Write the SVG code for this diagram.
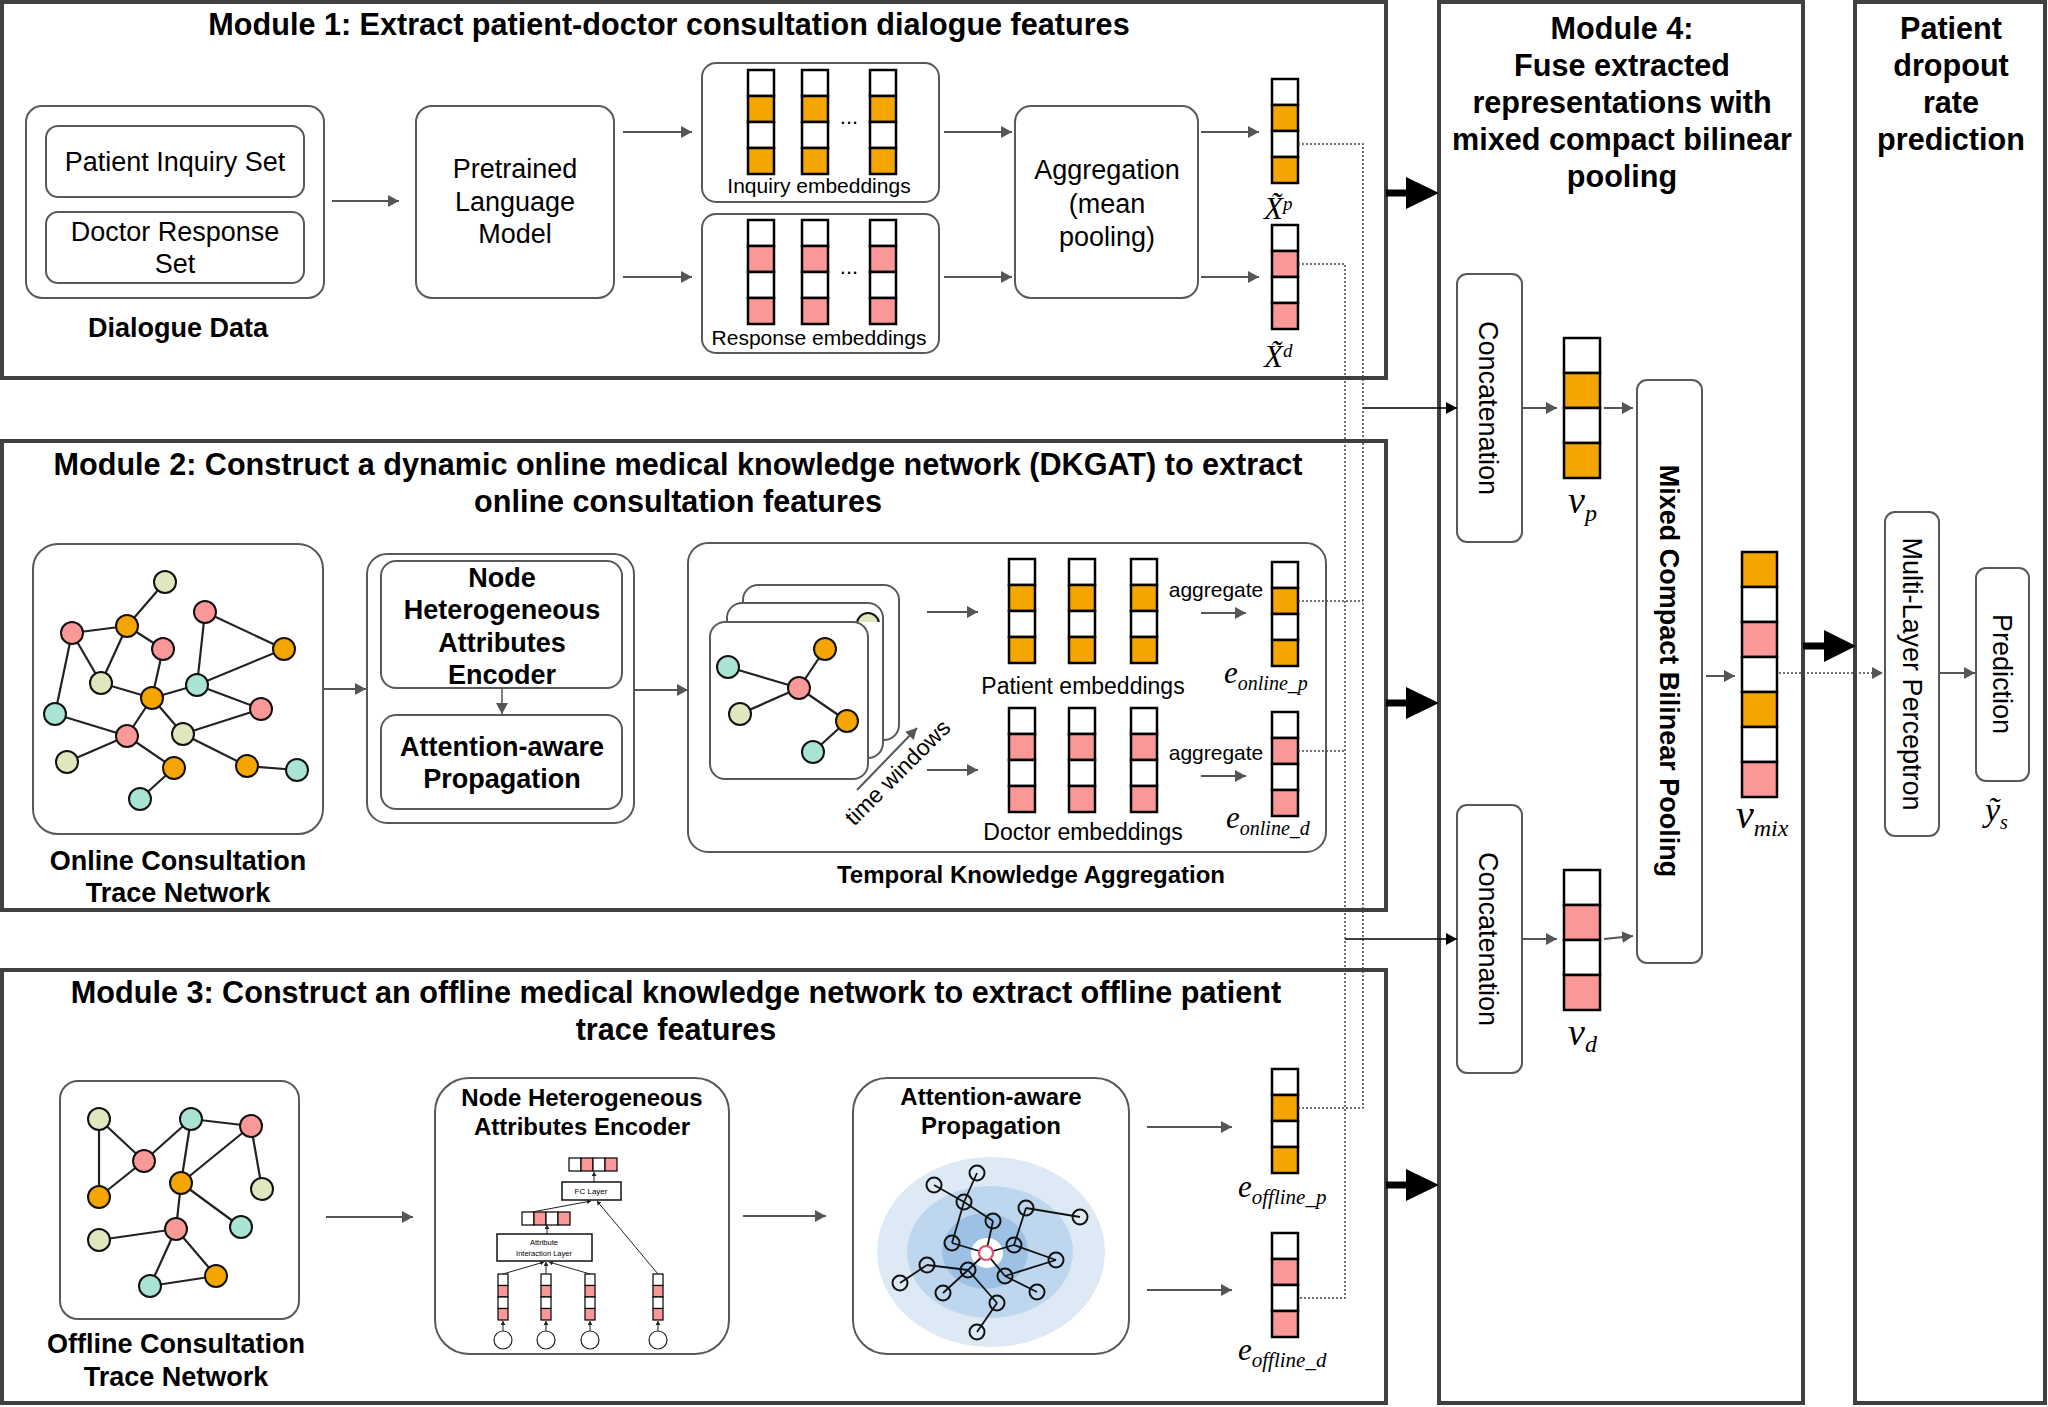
<svg xmlns="http://www.w3.org/2000/svg" width="2048" height="1407" viewBox="0 0 2048 1407">
<style>
.frame{fill:none;stroke:#404040;stroke-width:4}
.box{fill:#fff;stroke:#595959;stroke-width:2}
.t{font-family:"Liberation Sans",Arial,sans-serif;font-size:27px;fill:#000;text-anchor:middle}
.b{font-weight:bold}
.ti{font-size:30.6px;font-weight:bold}
.m{font-family:"Liberation Serif","Times New Roman",serif;font-style:italic;fill:#000}
.ar{stroke:#555;stroke-width:2;fill:none;marker-end:url(#ah)}
.ark{stroke:#000;stroke-width:1.6;fill:none;marker-end:url(#ahk)}
.dot{stroke:#444;stroke-width:1.5;stroke-dasharray:2 2;fill:none}
.edge{stroke:#222;stroke-width:2.2}
.nd{stroke:#111;stroke-width:2}
.c{stroke:#000;stroke-width:2.5}
.cs{stroke:#000;stroke-width:1.2}
.o{fill:#F5A500}.p{fill:#FA9898}.w{fill:#fff}.tl{fill:#A9E3D4}.y{fill:#E0E6BE}
.big{fill:#000}
.an{fill:none;stroke:#111;stroke-width:2}
.ae{stroke:#111;stroke-width:1.8}
.mini{stroke:#222;stroke-width:1;fill:none;marker-end:url(#ahs)}
</style>
<defs>
<marker id="ah" markerUnits="userSpaceOnUse" markerWidth="12" markerHeight="12" refX="11" refY="6" orient="auto"><path d="M0,0 L11,6 L0,12 z" fill="#555"/></marker>
<marker id="ahk" markerUnits="userSpaceOnUse" markerWidth="12" markerHeight="12" refX="11" refY="6" orient="auto"><path d="M0,0 L11,6 L0,12 z" fill="#000"/></marker>
<marker id="ahs" markerUnits="userSpaceOnUse" markerWidth="5" markerHeight="5" refX="4" refY="2.5" orient="auto"><path d="M0,0 L4,2.5 L0,5 z" fill="#222"/></marker>
<clipPath id="peek"><rect x="855" y="604" width="30" height="18"/></clipPath>
<g id="vO"><rect class="c w" width="26" height="26"/><rect class="c o" y="26" width="26" height="26"/><rect class="c w" y="52" width="26" height="26"/><rect class="c o" y="78" width="26" height="26"/></g>
<g id="vP"><rect class="c w" width="26" height="26"/><rect class="c p" y="26" width="26" height="26"/><rect class="c w" y="52" width="26" height="26"/><rect class="c p" y="78" width="26" height="26"/></g>
<g id="VO"><rect class="c w" width="36" height="35"/><rect class="c o" y="35" width="36" height="35"/><rect class="c w" y="70" width="36" height="35"/><rect class="c o" y="105" width="36" height="35"/></g>
<g id="VP"><rect class="c w" width="36" height="35"/><rect class="c p" y="35" width="36" height="35"/><rect class="c w" y="70" width="36" height="35"/><rect class="c p" y="105" width="36" height="35"/></g>
<g id="mv"><rect class="cs w" width="10" height="11.5"/><rect class="cs p" y="11.5" width="10" height="11.5"/><rect class="cs w" y="23" width="10" height="11.5"/><rect class="cs p" y="34.5" width="10" height="11.5"/></g>
<g id="mh"><rect class="cs w" width="12" height="13"/><rect class="cs p" x="12" width="12" height="13"/><rect class="cs w" x="24" width="12" height="13"/><rect class="cs p" x="36" width="12" height="13"/></g>
</defs>
<rect width="2048" height="1407" fill="#fff"/>

<!-- Module frames -->
<g id="module1">
<rect class="frame" x="2" y="2" width="1384" height="376"/>
<text class="t ti" x="669" y="35">Module 1: Extract patient-doctor consultation dialogue features</text>
</g>
<g id="module2">
<rect class="frame" x="2" y="441" width="1384" height="469"/>
<text class="t ti" x="678" y="475">Module 2: Construct a dynamic online medical knowledge network (DKGAT) to extract</text>
<text class="t ti" x="678" y="512">online consultation features</text>
</g>
<g id="module3">
<rect class="frame" x="2" y="970" width="1384" height="433"/>
<text class="t ti" x="676" y="1003">Module 3: Construct an offline medical knowledge network to extract offline patient</text>
<text class="t ti" x="676" y="1040">trace features</text>
</g>
<g id="module4">
<rect class="frame" x="1439" y="2" width="364" height="1401"/>
<text class="t ti" x="1622" y="39">Module 4:</text>
<text class="t ti" x="1622" y="76">Fuse extracted</text>
<text class="t ti" x="1622" y="113">representations with</text>
<text class="t ti" x="1622" y="150">mixed compact bilinear</text>
<text class="t ti" x="1622" y="187">pooling</text>
</g>
<g id="module5">
<rect class="frame" x="1855" y="2" width="190" height="1401"/>
<text class="t ti" x="1951" y="39">Patient</text>
<text class="t ti" x="1951" y="76">dropout</text>
<text class="t ti" x="1951" y="113">rate</text>
<text class="t ti" x="1951" y="150">prediction</text>
</g>

<!-- Module 1 nodes -->
<g id="dialogue-data">
<rect class="box" x="26" y="106" width="298" height="192" rx="16"/>
<rect class="box" x="46" y="126" width="258" height="71" rx="12"/>
<text class="t" x="175" y="171">Patient Inquiry Set</text>
<rect class="box" x="46" y="212" width="258" height="71" rx="12"/>
<text class="t" x="175" y="241">Doctor Response</text>
<text class="t" x="175" y="273">Set</text>
<text class="t b" x="178" y="337">Dialogue Data</text>
</g>
<g id="plm">
<rect class="box" x="416" y="106" width="198" height="192" rx="16"/>
<text class="t" x="515" y="178">Pretrained</text>
<text class="t" x="515" y="211">Language</text>
<text class="t" x="515" y="243">Model</text>
</g>
<g id="inquiry-embeddings">
<rect class="box" x="702" y="63" width="237" height="139" rx="14"/>
<use href="#vO" x="748" y="70"/><use href="#vO" x="802" y="70"/><use href="#vO" x="870" y="70"/>
<text class="t" style="font-size:22px" x="849" y="124">...</text>
<text class="t" style="font-size:21px" x="819" y="193">Inquiry embeddings</text>
</g>
<g id="response-embeddings">
<rect class="box" x="702" y="214" width="237" height="139" rx="14"/>
<use href="#vP" x="748" y="220"/><use href="#vP" x="802" y="220"/><use href="#vP" x="870" y="220"/>
<text class="t" style="font-size:22px" x="849" y="274">...</text>
<text class="t" style="font-size:21px" x="819" y="345">Response embeddings</text>
</g>
<g id="aggregation">
<rect class="box" x="1015" y="106" width="183" height="192" rx="16"/>
<text class="t" x="1107" y="179">Aggregation</text>
<text class="t" x="1107" y="213">(mean</text>
<text class="t" x="1107" y="246">pooling)</text>
</g>
<g id="xp">
<use href="#vO" x="1272" y="79"/>
<text class="m" style="font-size:31px" x="1264" y="219">X&#x303;<tspan style="font-size:19px" dy="-9">p</tspan></text>
</g>
<g id="xd">
<use href="#vP" x="1272" y="225"/>
<text class="m" style="font-size:31px" x="1264" y="367">X&#x303;<tspan style="font-size:19px" dy="-10">d</tspan></text>
</g>

<!-- Module 2 nodes -->
<g id="online-network">
<rect class="box" x="33" y="544" width="290" height="290" rx="25"/>
<g>
<line class="edge" x1="165" y1="582" x2="127" y2="626"/>
<line class="edge" x1="127" y1="626" x2="72" y2="633"/>
<line class="edge" x1="127" y1="626" x2="163" y2="649"/>
<line class="edge" x1="127" y1="626" x2="101" y2="683"/>
<line class="edge" x1="72" y1="633" x2="101" y2="683"/>
<line class="edge" x1="72" y1="633" x2="55" y2="714"/>
<line class="edge" x1="205" y1="612" x2="197" y2="685"/>
<line class="edge" x1="205" y1="612" x2="284" y2="649"/>
<line class="edge" x1="284" y1="649" x2="197" y2="685"/>
<line class="edge" x1="163" y1="649" x2="152" y2="698"/>
<line class="edge" x1="101" y1="683" x2="152" y2="698"/>
<line class="edge" x1="152" y1="698" x2="197" y2="685"/>
<line class="edge" x1="197" y1="685" x2="261" y2="709"/>
<line class="edge" x1="152" y1="698" x2="127" y2="736"/>
<line class="edge" x1="152" y1="698" x2="183" y2="734"/>
<line class="edge" x1="55" y1="714" x2="127" y2="736"/>
<line class="edge" x1="127" y1="736" x2="67" y2="762"/>
<line class="edge" x1="127" y1="736" x2="174" y2="768"/>
<line class="edge" x1="174" y1="768" x2="140" y2="799"/>
<line class="edge" x1="183" y1="734" x2="261" y2="709"/>
<line class="edge" x1="183" y1="734" x2="247" y2="766"/>
<line class="edge" x1="247" y1="766" x2="297" y2="770"/>
</g>
<g>
<circle class="nd y" cx="165" cy="582" r="11"/>
<circle class="nd o" cx="127" cy="626" r="11"/>
<circle class="nd p" cx="72" cy="633" r="11"/>
<circle class="nd p" cx="205" cy="612" r="11"/>
<circle class="nd p" cx="163" cy="649" r="11"/>
<circle class="nd o" cx="284" cy="649" r="11"/>
<circle class="nd y" cx="101" cy="683" r="11"/>
<circle class="nd tl" cx="197" cy="685" r="11"/>
<circle class="nd o" cx="152" cy="698" r="11"/>
<circle class="nd tl" cx="55" cy="714" r="11"/>
<circle class="nd p" cx="261" cy="709" r="11"/>
<circle class="nd p" cx="127" cy="736" r="11"/>
<circle class="nd y" cx="183" cy="734" r="11"/>
<circle class="nd y" cx="67" cy="762" r="11"/>
<circle class="nd o" cx="174" cy="768" r="11"/>
<circle class="nd o" cx="247" cy="766" r="11"/>
<circle class="nd tl" cx="297" cy="770" r="11"/>
<circle class="nd tl" cx="140" cy="799" r="11"/>
</g>
<text class="t b" x="178" y="870">Online Consultation</text>
<text class="t b" x="178" y="902">Trace Network</text>
</g>
<g id="online-encoder">
<rect class="box" x="367" y="554" width="267" height="269" rx="20"/>
<rect class="box" x="381" y="561" width="241" height="127" rx="15"/>
<text class="t b" x="502" y="587">Node</text>
<text class="t b" x="502" y="619">Heterogeneous</text>
<text class="t b" x="502" y="652">Attributes</text>
<text class="t b" x="502" y="684">Encoder</text>
<rect class="box" x="381" y="715" width="241" height="94" rx="15"/>
<text class="t b" x="502" y="756">Attention-aware</text>
<text class="t b" x="502" y="788">Propagation</text>
</g>
<g id="temporal-aggregation">
<rect class="box" x="688" y="543" width="638" height="309" rx="20"/>
<rect class="box" x="743" y="585" width="156" height="155" rx="15"/>
<rect class="box" x="727" y="603" width="156" height="155" rx="15"/>
<circle class="nd y" cx="868" cy="624" r="11" clip-path="url(#peek)"/>
<rect class="box" x="710" y="622" width="158" height="157" rx="15"/>
<line class="edge" x1="728" y1="667" x2="799" y2="688"/>
<line class="edge" x1="825" y1="649" x2="799" y2="688"/>
<line class="edge" x1="799" y1="688" x2="740" y2="714"/>
<line class="edge" x1="799" y1="688" x2="847" y2="721"/>
<line class="edge" x1="847" y1="721" x2="813" y2="752"/>
<circle class="nd tl" cx="728" cy="667" r="11"/>
<circle class="nd o" cx="825" cy="649" r="11"/>
<circle class="nd p" cx="799" cy="688" r="11"/>
<circle class="nd y" cx="740" cy="714" r="11"/>
<circle class="nd o" cx="847" cy="721" r="11"/>
<circle class="nd tl" cx="813" cy="752" r="11"/>
<text class="t" style="font-size:23px" x="903" y="778" transform="rotate(-45 903 778)">time windows</text>
<use href="#vO" x="1009" y="559"/><use href="#vO" x="1069" y="559"/><use href="#vO" x="1131" y="559"/>
<text class="t" style="font-size:23px" x="1083" y="694">Patient embeddings</text>
<use href="#vP" x="1009" y="708"/><use href="#vP" x="1069" y="708"/><use href="#vP" x="1131" y="708"/>
<text class="t" style="font-size:23px" x="1083" y="840">Doctor embeddings</text>
<text class="t" style="font-size:21px" x="1216" y="597">aggregate</text>
<text class="t" style="font-size:21px" x="1216" y="760">aggregate</text>
<text class="t b" style="font-size:24px" x="1031" y="883">Temporal Knowledge Aggregation</text>
</g>
<g id="e-online-p">
<use href="#vO" x="1272" y="562"/>
<text class="m" style="font-size:31px" x="1224" y="683">e<tspan style="font-size:20px" dy="7">online_p</tspan></text>
</g>
<g id="e-online-d">
<use href="#vP" x="1272" y="712"/>
<text class="m" style="font-size:31px" x="1226" y="828">e<tspan style="font-size:20px" dy="7">online_d</tspan></text>
</g>

<!-- Module 3 nodes -->
<g id="offline-network">
<rect class="box" x="60" y="1081" width="239" height="238" rx="18"/>
<g>
<line class="edge" x1="99" y1="1119" x2="144" y2="1161"/>
<line class="edge" x1="99" y1="1119" x2="99" y2="1197"/>
<line class="edge" x1="144" y1="1161" x2="99" y2="1197"/>
<line class="edge" x1="144" y1="1161" x2="191" y2="1119"/>
<line class="edge" x1="191" y1="1119" x2="251" y2="1126"/>
<line class="edge" x1="191" y1="1119" x2="181" y2="1183"/>
<line class="edge" x1="251" y1="1126" x2="181" y2="1183"/>
<line class="edge" x1="251" y1="1126" x2="262" y2="1189"/>
<line class="edge" x1="181" y1="1183" x2="176" y2="1229"/>
<line class="edge" x1="181" y1="1183" x2="241" y2="1227"/>
<line class="edge" x1="176" y1="1229" x2="99" y2="1240"/>
<line class="edge" x1="176" y1="1229" x2="150" y2="1286"/>
<line class="edge" x1="176" y1="1229" x2="216" y2="1276"/>
<line class="edge" x1="150" y1="1286" x2="216" y2="1276"/>
</g>
<g>
<circle class="nd y" cx="99" cy="1119" r="11"/>
<circle class="nd tl" cx="191" cy="1119" r="11"/>
<circle class="nd p" cx="251" cy="1126" r="11"/>
<circle class="nd p" cx="144" cy="1161" r="11"/>
<circle class="nd o" cx="99" cy="1197" r="11"/>
<circle class="nd o" cx="181" cy="1183" r="11"/>
<circle class="nd y" cx="262" cy="1189" r="11"/>
<circle class="nd p" cx="176" cy="1229" r="11"/>
<circle class="nd tl" cx="241" cy="1227" r="11"/>
<circle class="nd y" cx="99" cy="1240" r="11"/>
<circle class="nd o" cx="216" cy="1276" r="11"/>
<circle class="nd tl" cx="150" cy="1286" r="11"/>
</g>
<text class="t b" x="176" y="1353">Offline Consultation</text>
<text class="t b" x="176" y="1386">Trace Network</text>
</g>
<g id="offline-encoder">
<rect class="box" x="435" y="1078" width="294" height="276" rx="34"/>
<text class="t b" style="font-size:24px" x="582" y="1106">Node Heterogeneous</text>
<text class="t b" style="font-size:24px" x="582" y="1135">Attributes Encoder</text>
<use href="#mh" x="569" y="1158"/>
<rect x="562" y="1182" width="59" height="18" fill="#fff" stroke="#111" stroke-width="1.5"/>
<text class="t" style="font-size:8px" x="591" y="1194">FC Layer</text>
<use href="#mh" x="522" y="1212"/>
<rect x="497" y="1234" width="95" height="27" fill="#fff" stroke="#111" stroke-width="1.5"/>
<text class="t" style="font-size:7.5px" x="544" y="1245">Attribute</text>
<text class="t" style="font-size:7.5px" x="544" y="1256">Interaction Layer</text>
<use href="#mv" x="498" y="1274"/><use href="#mv" x="541" y="1274"/><use href="#mv" x="585" y="1274"/><use href="#mv" x="653" y="1274"/>
<circle cx="503" cy="1340" r="9" fill="#fff" stroke="#222" stroke-width="1.2"/>
<circle cx="546" cy="1340" r="9" fill="#fff" stroke="#222" stroke-width="1.2"/>
<circle cx="590" cy="1340" r="9" fill="#fff" stroke="#222" stroke-width="1.2"/>
<circle cx="658" cy="1340" r="9" fill="#fff" stroke="#222" stroke-width="1.2"/>
<line class="mini" x1="503" y1="1331" x2="503" y2="1321"/>
<line class="mini" x1="546" y1="1331" x2="546" y2="1321"/>
<line class="mini" x1="590" y1="1331" x2="590" y2="1321"/>
<line class="mini" x1="658" y1="1331" x2="658" y2="1321"/>
<line class="mini" x1="503" y1="1274" x2="544" y2="1262"/>
<line class="mini" x1="546" y1="1274" x2="546" y2="1262"/>
<line class="mini" x1="590" y1="1274" x2="549" y2="1262"/>
<line class="mini" x1="547" y1="1234" x2="547" y2="1225"/>
<line class="mini" x1="532" y1="1212" x2="591" y2="1201"/>
<line class="mini" x1="658" y1="1274" x2="597" y2="1201"/>
<line class="mini" x1="594" y1="1182" x2="594" y2="1172"/>
</g>
<g id="offline-propagation">
<rect class="box" x="853" y="1078" width="276" height="276" rx="34"/>
<text class="t b" style="font-size:24px" x="991" y="1105">Attention-aware</text>
<text class="t b" style="font-size:24px" x="991" y="1134">Propagation</text>
<ellipse cx="991" cy="1252" rx="114" ry="95" fill="#DDEAF6"/>
<ellipse cx="990" cy="1252" rx="83" ry="66" fill="#BED6EE"/>
<ellipse cx="985" cy="1251" rx="43" ry="38" fill="#9DC0E5"/>
<ellipse cx="987" cy="1253" rx="16" ry="15" fill="#fff"/>
<g>
<line class="ae" x1="977" y1="1173" x2="964" y2="1202"/>
<line class="ae" x1="934" y1="1185" x2="964" y2="1202"/>
<line class="ae" x1="964" y1="1202" x2="993" y2="1221"/>
<line class="ae" x1="964" y1="1202" x2="952" y2="1243"/>
<line class="ae" x1="993" y1="1221" x2="986" y2="1253"/>
<line class="ae" x1="1026" y1="1208" x2="1014" y2="1245"/>
<line class="ae" x1="1026" y1="1208" x2="1080" y2="1217"/>
<line class="ae" x1="1014" y1="1245" x2="986" y2="1253"/>
<line class="ae" x1="1014" y1="1245" x2="1056" y2="1260"/>
<line class="ae" x1="952" y1="1243" x2="986" y2="1253"/>
<line class="ae" x1="968" y1="1270" x2="986" y2="1253"/>
<line class="ae" x1="1005" y1="1276" x2="986" y2="1253"/>
<line class="ae" x1="1005" y1="1276" x2="1056" y2="1260"/>
<line class="ae" x1="1005" y1="1276" x2="1037" y2="1292"/>
<line class="ae" x1="927" y1="1265" x2="968" y2="1270"/>
<line class="ae" x1="927" y1="1265" x2="900" y2="1283"/>
<line class="ae" x1="968" y1="1270" x2="943" y2="1293"/>
<line class="ae" x1="968" y1="1270" x2="997" y2="1303"/>
<line class="ae" x1="997" y1="1303" x2="977" y2="1332"/>
</g>
<g>
<circle class="an" cx="977" cy="1173" r="7.5"/>
<circle class="an" cx="934" cy="1185" r="7.5"/>
<circle class="an" cx="964" cy="1202" r="7.5"/>
<circle class="an" cx="993" cy="1221" r="7.5"/>
<circle class="an" cx="1026" cy="1208" r="7.5"/>
<circle class="an" cx="1080" cy="1217" r="7.5"/>
<circle class="an" cx="952" cy="1243" r="7.5"/>
<circle class="an" cx="1014" cy="1245" r="7.5"/>
<circle class="an" cx="1056" cy="1260" r="7.5"/>
<circle class="an" cx="927" cy="1265" r="7.5"/>
<circle class="an" cx="968" cy="1270" r="7.5"/>
<circle class="an" cx="1005" cy="1276" r="7.5"/>
<circle class="an" cx="900" cy="1283" r="7.5"/>
<circle class="an" cx="943" cy="1293" r="7.5"/>
<circle class="an" cx="1037" cy="1292" r="7.5"/>
<circle class="an" cx="997" cy="1303" r="7.5"/>
<circle class="an" cx="977" cy="1332" r="7.5"/>
<circle cx="986" cy="1253" r="7" fill="#fff" stroke="#E0506A" stroke-width="2.2"/>
</g>
</g>
<g id="e-offline-p">
<use href="#vO" x="1272" y="1069"/>
<text class="m" style="font-size:31px" x="1238" y="1197">e<tspan style="font-size:21px" dy="7">offline_p</tspan></text>
</g>
<g id="e-offline-d">
<use href="#vP" x="1272" y="1233"/>
<text class="m" style="font-size:31px" x="1238" y="1360">e<tspan style="font-size:21px" dy="7">offline_d</tspan></text>
</g>

<!-- Module 4 nodes -->
<g id="concat-p">
<rect class="box" x="1457" y="274" width="65" height="268" rx="10"/>
<text class="t" x="1479" y="408" transform="rotate(90 1479 408)">Concatenation</text>
</g>
<g id="vp">
<use href="#VO" x="1564" y="338"/>
<text class="m" style="font-size:38px" x="1568" y="513">v<tspan style="font-size:24px" dy="8">p</tspan></text>
</g>
<g id="concat-d">
<rect class="box" x="1457" y="805" width="65" height="268" rx="10"/>
<text class="t" x="1479" y="939" transform="rotate(90 1479 939)">Concatenation</text>
</g>
<g id="vd">
<use href="#VP" x="1564" y="870"/>
<text class="m" style="font-size:38px" x="1568" y="1045">v<tspan style="font-size:24px" dy="7">d</tspan></text>
</g>
<g id="mcbp">
<rect class="box" x="1637" y="380" width="65" height="583" rx="10"/>
<text class="t b" x="1660" y="671" transform="rotate(90 1660 671)">Mixed Compact Bilinear Pooling</text>
</g>
<g id="vmix">
<rect class="c o" x="1742" y="552" width="35" height="35"/>
<rect class="c w" x="1742" y="587" width="35" height="35"/>
<rect class="c p" x="1742" y="622" width="35" height="35"/>
<rect class="c w" x="1742" y="657" width="35" height="35"/>
<rect class="c o" x="1742" y="692" width="35" height="35"/>
<rect class="c w" x="1742" y="727" width="35" height="35"/>
<rect class="c p" x="1742" y="762" width="35" height="35"/>
<text class="m" style="font-size:40px" x="1736" y="828">v<tspan style="font-size:24px" dy="8">mix</tspan></text>
</g>
<g id="mlp">
<rect class="box" x="1885" y="512" width="54" height="324" rx="10"/>
<text class="t" x="1903" y="674" transform="rotate(90 1903 674)">Multi-Layer Perceptron</text>
</g>
<g id="prediction">
<rect class="box" x="1976" y="568" width="53" height="213" rx="10"/>
<text class="t" x="1993" y="674" transform="rotate(90 1993 674)">Prediction</text>
<text class="m" style="font-size:34px" x="1985" y="821">ỹ<tspan style="font-size:20px" dy="8">s</tspan></text>
</g>

<!-- Connectors -->
<g id="connectors">
<line class="ar" x1="332" y1="201" x2="399" y2="201"/>
<line class="ar" x1="623" y1="132" x2="692" y2="132"/>
<line class="ar" x1="623" y1="277" x2="692" y2="277"/>
<line class="ar" x1="944" y1="132" x2="1012" y2="132"/>
<line class="ar" x1="944" y1="277" x2="1012" y2="277"/>
<line class="ar" x1="1201" y1="132" x2="1259" y2="132"/>
<line class="ar" x1="1201" y1="277" x2="1259" y2="277"/>

<line class="ar" x1="324" y1="689" x2="366" y2="689"/>
<line class="ar" style="stroke-width:1.5" x1="502" y1="688" x2="502" y2="714"/>
<line class="ar" x1="634" y1="690" x2="688" y2="690"/>
<line class="ar" x1="927" y1="612" x2="978" y2="612"/>
<line class="ar" x1="927" y1="770" x2="978" y2="770"/>
<line class="ar" x1="857" y1="790" x2="917" y2="728"/>
<line class="ar" x1="1201" y1="613" x2="1246" y2="613"/>
<line class="ar" x1="1201" y1="776" x2="1246" y2="776"/>

<line class="ar" x1="326" y1="1217" x2="413" y2="1217"/>
<line class="ar" x1="743" y1="1216" x2="826" y2="1216"/>
<line class="ar" x1="1147" y1="1127" x2="1232" y2="1127"/>
<line class="ar" x1="1147" y1="1290" x2="1232" y2="1290"/>

<polyline class="dot" points="1298,144 1363,144 1363,1108 1298,1108"/>
<polyline class="dot" points="1298,264 1345,264 1345,1298 1298,1298"/>
<line class="dot" x1="1298" y1="601" x2="1363" y2="601"/>
<line class="dot" x1="1298" y1="751" x2="1345" y2="751"/>
<line class="ark" x1="1363" y1="408" x2="1457" y2="408"/>
<line class="ark" x1="1345" y1="939" x2="1457" y2="939"/>

<polygon class="big" points="1386,189.5 1406,189.5 1406,177 1439,193 1406,209 1406,196.5 1386,196.5"/>
<polygon class="big" points="1386,699.5 1406,699.5 1406,687 1439,703 1406,719 1406,706.5 1386,706.5"/>
<polygon class="big" points="1386,1181.5 1406,1181.5 1406,1169 1439,1185 1406,1201 1406,1188.5 1386,1188.5"/>
<polygon class="big" points="1803,642.5 1824,642.5 1824,630 1856,646 1824,662 1824,649.5 1803,649.5"/>

<line class="ar" x1="1522" y1="408" x2="1557" y2="408"/>
<line class="ar" x1="1604" y1="408" x2="1633" y2="408"/>
<line class="ar" x1="1522" y1="939" x2="1557" y2="939"/>
<line class="ar" x1="1604" y1="939" x2="1633" y2="936"/>
<line class="ar" x1="1706" y1="676" x2="1735" y2="676"/>
<line class="dot" style="marker-end:url(#ah)" x1="1779" y1="673" x2="1883" y2="673"/>
<line class="ar" x1="1940" y1="673" x2="1975" y2="673"/>
</g>
</svg>
